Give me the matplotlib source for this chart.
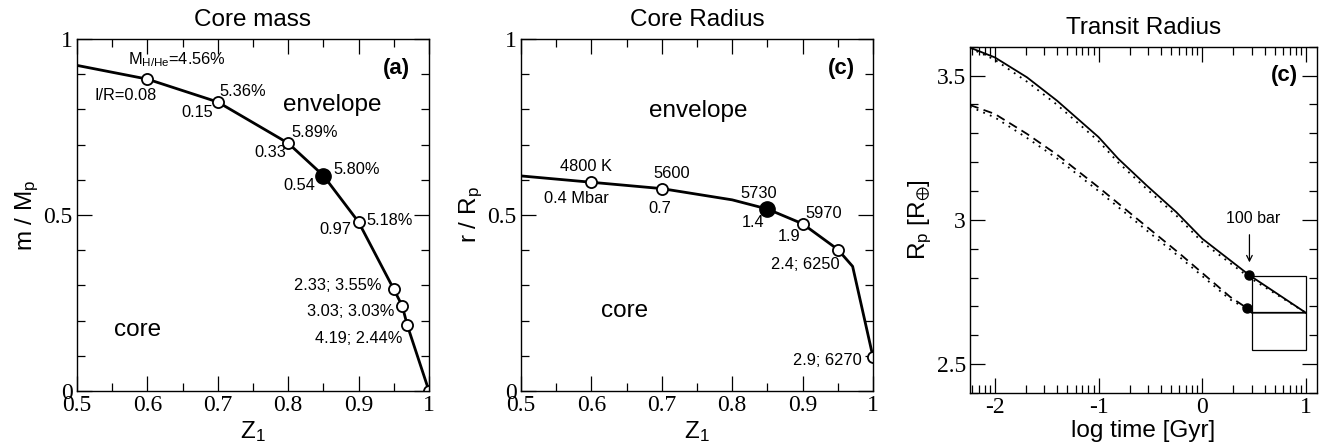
import numpy as np
import matplotlib
matplotlib.use("Agg")
import matplotlib.pyplot as plt
from matplotlib.ticker import MultipleLocator, FixedLocator, FuncFormatter
from matplotlib.patches import Rectangle

plt.rcParams['font.family'] = ['Liberation Sans', 'DejaVu Sans']
plt.rcParams['mathtext.default'] = 'regular'
plt.rcParams['axes.unicode_minus'] = False

# ---- panel (a): core mass vs Z1
z_mass = [0.5, 0.6, 0.7, 0.8, 0.85, 0.9, 0.95, 0.962, 0.969, 1.0]
m_mass = [0.925, 0.886, 0.821, 0.704, 0.612, 0.480, 0.289, 0.242, 0.188, 0.0]
z_mass_open = [0.6, 0.7, 0.8, 0.9, 0.95, 0.962, 0.969, 1.0]
m_mass_open = [0.886, 0.821, 0.704, 0.480, 0.289, 0.242, 0.188, 0.0]
z_mass_fill = [0.85]
m_mass_fill = [0.612]

# ---- panel (c): core radius vs Z1
z_rad = [0.5, 0.6, 0.7, 0.8, 0.85, 0.9, 0.95, 0.971, 1.0]
r_rad = [0.611, 0.593, 0.575, 0.543, 0.517, 0.475, 0.402, 0.354, 0.096]
z_rad_open = [0.6, 0.7, 0.9, 0.95, 1.0]
r_rad_open = [0.593, 0.575, 0.475, 0.402, 0.096]
z_rad_fill = [0.85]
r_rad_fill = [0.517]

# ---- panel 3: transit radius evolution
t_solid = [-2.24, -2.0, -1.69, -1.4, -1.0, -0.81, -0.535, -0.25, 0.0, 0.456, 1.0]
r_solid = [3.597, 3.563, 3.494, 3.413, 3.287, 3.212, 3.119, 3.027, 2.935, 2.808, 2.678]
t_sdot = [-2.24, -2.0, -1.69, -1.4, -1.0, -0.81, -0.535, -0.25, 0.0, 0.456, 1.0]
r_sdot = [3.595, 3.555, 3.479, 3.399, 3.273, 3.199, 3.107, 3.015, 2.923, 2.800, 2.678]
t_dash = [-2.24, -2.0, -1.69, -1.4, -1.0, -0.5, -0.214, 0.27, 0.437]
r_dash = [3.398, 3.367, 3.298, 3.226, 3.113, 2.966, 2.882, 2.733, 2.693]
t_ddot = [-2.24, -2.0, -1.69, -1.4, -1.0, -0.5, -0.214, 0.27, 0.437]
r_ddot = [3.392, 3.355, 3.284, 3.213, 3.100, 2.953, 2.870, 2.724, 2.690]
t_flat = [0.437, 0.477, 1.0]
r_flat = [2.693, 2.678, 2.678]
t_100bar = [0.456, 0.437]
r_100bar = [2.808, 2.693]
box_t = [0.477, 1.0]
box_r = [2.548, 2.806]

mass_up = ["M$_{H/He}$=4.56%", "5.36%", "5.89%", "5.80%", "5.18%"]
mass_up_xy = [(0.572, 0.94), (0.702, 0.851), (0.804, 0.733), (0.864, 0.630), (0.911, 0.484)]
mass_lo = ["I/R=0.08", "0.15", "0.33", "0.54", "0.97", "2.33; 3.55%", "3.03; 3.03%", "4.19; 2.44%"]
mass_lo_xy = [(0.613, 0.839), (0.693, 0.791), (0.797, 0.678), (0.838, 0.584), (0.890, 0.458),
              (0.933, 0.301), (0.951, 0.227), (0.962, 0.148)]
rad_lab = ["4800 K", "0.4 Mbar", "5600", "0.7", "5730", "1.4", "5970", "1.9", "2.4; 6250"]
rad_lab_xy = [(0.555, 0.638), (0.533, 0.548), (0.688, 0.619), (0.681, 0.519), (0.811, 0.562),
              (0.813, 0.479), (0.904, 0.503), (0.864, 0.439), (0.855, 0.358)]

serif = 'Liberation Serif'
fmt = FuncFormatter(lambda v, p: '%g' % round(v, 3))
small = 11.8
big = 17.5

fig = plt.figure(figsize=(13.22, 4.45), dpi=100)
ax1 = fig.add_axes([0.0582, 0.1213, 0.2663, 0.7911])
ax2 = fig.add_axes([0.3941, 0.1213, 0.2663, 0.7911])
ax3 = fig.add_axes([0.7337, 0.1169, 0.2627, 0.7781])


def style_axes(ax):
    ax.tick_params(which='both', direction='in', top=True, right=True, width=0.9,
                   labelsize=17, labelfontfamily=serif)
    ax.tick_params(which='major', length=11, pad=3)
    ax.tick_params(which='minor', length=5.5)
    for s in ax.spines.values():
        s.set_linewidth(1.0)


for ax in (ax1, ax2):
    ax.set_xlim(0.5, 1.0)
    ax.set_ylim(0, 1)
    ax.xaxis.set_major_locator(MultipleLocator(0.1))
    ax.xaxis.set_minor_locator(MultipleLocator(0.05))
    ax.yaxis.set_major_locator(MultipleLocator(0.5))
    ax.yaxis.set_minor_locator(MultipleLocator(0.1))
    ax.xaxis.set_major_formatter(fmt)
    ax.yaxis.set_major_formatter(fmt)
    ax.set_xlabel("Z$_1$", fontsize=big, labelpad=2)
    style_axes(ax)

# panel (a)
ax1.plot(z_mass, m_mass, color='k', lw=2)
ax1.plot(z_mass_open, m_mass_open, 'o', ms=8, mfc='white', mec='k', mew=1.3)
ax1.plot(z_mass_fill, m_mass_fill, 'o', ms=11, color='k')
ax1.set_title("Core mass", fontsize=big, pad=9)
ax1.set_ylabel("m / M$_p$", fontsize=big, labelpad=2)
for s, (x, y) in zip(mass_up, mass_up_xy):
    ax1.text(x, y, s, fontsize=small, ha='left', va='center')
for s, (x, y) in zip(mass_lo, mass_lo_xy):
    ax1.text(x, y, s, fontsize=small, ha='right', va='center')
ax1.text(0.862, 0.813, "envelope", fontsize=big, ha='center', va='center')
ax1.text(0.586, 0.173, "core", fontsize=big, ha='center', va='center')
ax1.text(0.973, 0.915, "(a)", fontsize=16, fontweight='bold', ha='right', va='center')

# panel (c) core radius
ax2.plot(z_rad, r_rad, color='k', lw=2)
ax2.plot(z_rad_open, r_rad_open, 'o', ms=8, mfc='white', mec='k', mew=1.3)
ax2.plot(z_rad_fill, r_rad_fill, 'o', ms=11, color='k')
ax2.set_title("Core Radius", fontsize=big, pad=9)
ax2.set_ylabel("r / R$_p$", fontsize=big, labelpad=2)
for s, (x, y) in zip(rad_lab, rad_lab_xy):
    ax2.text(x, y, s, fontsize=small, ha='left', va='center')
ax2.text(0.984, 0.088, "2.9; 6270", fontsize=small, ha='right', va='center')
ax2.text(0.752, 0.796, "envelope", fontsize=big, ha='center', va='center')
ax2.text(0.647, 0.227, "core", fontsize=big, ha='center', va='center')
ax2.text(0.975, 0.915, "(c)", fontsize=16, fontweight='bold', ha='right', va='center')

# panel 3 transit radius
ax3.plot(t_solid, r_solid, color='k', lw=1.3)
ax3.plot(t_sdot, r_sdot, color='k', lw=1.3, ls=(0, (1, 3)))
ax3.plot(t_dash, r_dash, color='k', lw=1.3, ls=(0, (5, 3)))
ax3.plot(t_ddot, r_ddot, color='k', lw=1.3, ls=(0, (1, 3)))
ax3.plot(t_flat, r_flat, color='k', lw=1.3)
ax3.plot(t_100bar, r_100bar, 'o', ms=6.5, color='k')
ax3.add_patch(Rectangle((box_t[0], box_r[0]), box_t[1] - box_t[0], box_r[1] - box_r[0],
                        fill=False, ec='k', lw=0.9))
ax3.annotate("", xy=(0.456, 2.843), xytext=(0.456, 2.958),
             arrowprops=dict(arrowstyle='->', color='k', lw=0.9))
ax3.text(0.49, 3.005, "100 bar", fontsize=11.5, ha='center', va='center')
ax3.text(0.928, 3.5, "(c)", fontsize=16, fontweight='bold', ha='right', va='center')
ax3.set_xlim(-2.24, 1.11)
ax3.set_ylim(2.4, 3.6)
ax3.xaxis.set_major_locator(MultipleLocator(1))
minor_t = [n + np.log10(k) for n in range(-3, 1) for k in range(2, 10)]
ax3.xaxis.set_minor_locator(FixedLocator(minor_t))
ax3.yaxis.set_major_locator(MultipleLocator(0.5))
ax3.yaxis.set_minor_locator(MultipleLocator(0.1))
ax3.xaxis.set_major_formatter(fmt)
ax3.yaxis.set_major_formatter(fmt)
ax3.set_title("Transit Radius", fontsize=big, pad=9)
ax3.set_xlabel("log time [Gyr]", fontsize=big, labelpad=1)
ax3.set_ylabel(r"R$_p$ [R$_{\oplus}$]", fontsize=big, labelpad=2)
style_axes(ax3)

fig.savefig("out.png", dpi=100)
